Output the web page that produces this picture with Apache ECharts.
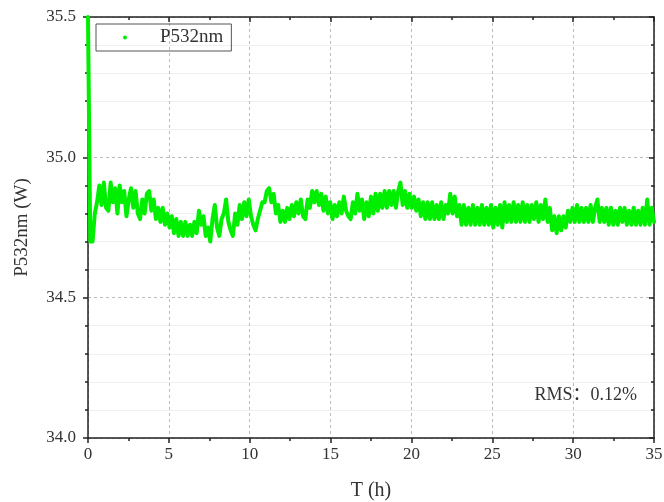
<!DOCTYPE html>
<html>
<head>
<meta charset="utf-8">
<script src="https://cdn.jsdelivr.net/npm/echarts@6/dist/echarts.min.js"></script>
<style>
html,body{margin:0;padding:0;background:#fff;}
#chart{width:664px;height:502px;}
</style>
</head>
<body>
<div id="chart"></div>
<script>
// Sampling step of the series (hours)
const timeStep = 0.14;
const seriesName = 'P532nm';
const xTicks = [0, 5, 10, 15, 20, 25, 30, 35];
const yTicks = [34.0, 34.5, 35.0, 35.5];
const rmsText = 'RMS：0.12%';
// P532nm (W), one value every 0.14 h from 0 to 35 h
const power = [
35.50,34.70,34.70,34.80,34.84,34.90,34.83,34.91,34.82,34.81,
34.91,34.84,34.89,34.80,34.90,34.84,34.88,34.79,34.85,34.89,
34.82,34.88,34.80,34.78,34.85,34.80,34.87,34.88,34.81,34.85,
34.78,34.82,34.77,34.82,34.76,34.80,34.75,34.79,34.73,34.78,
34.72,34.77,34.72,34.77,34.72,34.76,34.72,34.77,34.73,34.81,
34.76,34.79,34.72,34.75,34.70,34.78,34.83,34.75,34.72,34.78,
34.80,34.85,34.77,34.74,34.72,34.80,34.76,34.83,34.78,34.84,
34.79,34.85,34.79,34.76,34.74,34.78,34.81,34.84,34.84,34.88,
34.89,34.84,34.87,34.80,34.83,34.77,34.81,34.77,34.82,34.78,
34.83,34.79,34.84,34.80,34.85,34.79,34.78,34.85,34.82,34.88,
34.84,34.88,34.83,34.87,34.81,34.86,34.80,34.84,34.78,34.83,
34.79,34.84,34.80,34.86,34.81,34.79,34.78,34.84,34.80,34.87,
34.81,34.85,34.78,34.84,34.79,34.86,34.80,34.87,34.81,34.87,
34.82,34.88,34.82,34.88,34.83,34.88,34.82,34.88,34.91,34.83,
34.88,34.82,34.87,34.82,34.86,34.81,34.85,34.79,34.84,34.78,
34.84,34.78,34.84,34.78,34.83,34.78,34.84,34.78,34.83,34.80,
34.87,34.80,34.86,34.79,34.83,34.76,34.83,34.76,34.82,34.76,
34.83,34.76,34.82,34.76,34.83,34.76,34.82,34.76,34.83,34.75,
34.82,34.76,34.83,34.75,34.84,34.77,34.83,34.77,34.84,34.77,
34.83,34.77,34.84,34.77,34.83,34.77,34.83,34.78,34.84,34.77,
34.83,34.78,34.85,34.77,34.82,34.74,34.79,34.73,34.79,34.74,
34.79,34.75,34.81,34.77,34.82,34.77,34.83,34.77,34.82,34.77,
34.82,34.77,34.83,34.77,34.82,34.85,34.77,34.82,34.77,34.82,
34.76,34.82,34.76,34.81,34.76,34.82,34.77,34.82,34.76,34.81,
34.76,34.82,34.76,34.81,34.76,34.82,34.76,34.85,34.76,34.82,
34.77
];

const data = power.map((v, i) => [+(i * timeStep).toFixed(2), v]);
const font = '"Liberation Serif", "DejaVu Serif", "Noto Sans CJK SC", serif';
const txt = '#333';
const green = '#00ee00';

const chart = echarts.init(document.getElementById('chart'), null, {renderer: 'canvas'});
const baseX = {
  type: 'value', min: xTicks[0], max: xTicks[xTicks.length - 1], interval: 5
};
const baseY = {
  type: 'value', min: yTicks[0], max: yTicks[yTicks.length - 1], interval: 0.5
};
chart.setOption({
  animation: false,
  backgroundColor: '#fff',
  grid: {left: 88, right: 10, top: 17, bottom: 64, containLabel: false, outerBoundsMode: 'none'},
  legend: {
    show: true, left: 96, top: 24,
    data: [{name: seriesName, icon: 'circle'}],
    itemWidth: 4, itemHeight: 4,
    borderColor: '#555', borderWidth: 1, borderRadius: 0,
    padding: [4, 8, 4, 27],
    textStyle: {fontFamily: font, fontSize: 19, color: txt, padding: [0, 0, 0, 28]}
  },
  xAxis: [
    Object.assign({}, baseX, {
      position: 'bottom',
      name: 'T (h)', nameLocation: 'middle', nameGap: 43,
      nameTextStyle: {fontFamily: font, fontSize: 20, color: txt},
      axisLine: {show: true, onZero: false, lineStyle: {color: '#222', width: 1.5}},
      axisTick: {show: true, inside: false, length: 5, lineStyle: {color: '#222', width: 1.5}},
      minorTick: {show: true, splitNumber: 2, length: 3, lineStyle: {color: '#222', width: 1.5}},
      axisLabel: {fontFamily: font, fontSize: 17, color: txt, margin: 8},
      splitLine: {show: true, lineStyle: {color: '#bbb', type: [3, 3], width: 1}}
    }),
    Object.assign({}, baseX, {
      position: 'top',
      axisLine: {show: true, onZero: false, lineStyle: {color: '#222', width: 1.5}},
      axisTick: {show: true, inside: true, length: 5, lineStyle: {color: '#222', width: 1.5}},
      minorTick: {show: true, splitNumber: 2, length: 3, lineStyle: {color: '#222', width: 1.5}},
      axisLabel: {show: false},
      splitLine: {show: false}
    })
  ],
  yAxis: [
    Object.assign({}, baseY, {
      position: 'left',
      name: 'P532nm (W)', nameLocation: 'middle', nameGap: 56,
      nameTextStyle: {fontFamily: font, fontSize: 19, color: txt},
      axisLine: {show: true, onZero: false, lineStyle: {color: '#222', width: 1.5}},
      axisTick: {show: true, inside: false, length: 5, lineStyle: {color: '#222', width: 1.5}},
      minorTick: {show: true, splitNumber: 5, length: 3, lineStyle: {color: '#222', width: 1.5}},
      minorSplitLine: {show: true, lineStyle: {color: '#f0f0f0', width: 1}},
      axisLabel: {fontFamily: font, fontSize: 17, color: txt, margin: 12,
        formatter: v => v.toFixed(1)},
      splitLine: {show: true, lineStyle: {color: '#bbb', type: [3, 3], width: 1}}
    }),
    Object.assign({}, baseY, {
      position: 'right',
      axisLine: {show: true, onZero: false, lineStyle: {color: '#222', width: 1.5}},
      axisTick: {show: true, inside: true, length: 5, lineStyle: {color: '#222', width: 1.5}},
      minorTick: {show: true, splitNumber: 5, length: 3, lineStyle: {color: '#222', width: 1.5}},
      axisLabel: {show: false},
      splitLine: {show: false}
    })
  ],
  graphic: [{
    type: 'text', right: 27, top: 386, z: 100,
    style: {text: rmsText, fontFamily: font, fontSize: 18, fill: txt}
  }],
  series: [{
    name: seriesName, type: 'line', xAxisIndex: 0, yAxisIndex: 0,
    data: data, showSymbol: false, symbol: 'circle', symbolSize: 4,
    clip: true,
    itemStyle: {color: green},
    lineStyle: {color: green, width: 4, join: 'round', cap: 'round'}
  }]
});
</script>
</body>
</html>
